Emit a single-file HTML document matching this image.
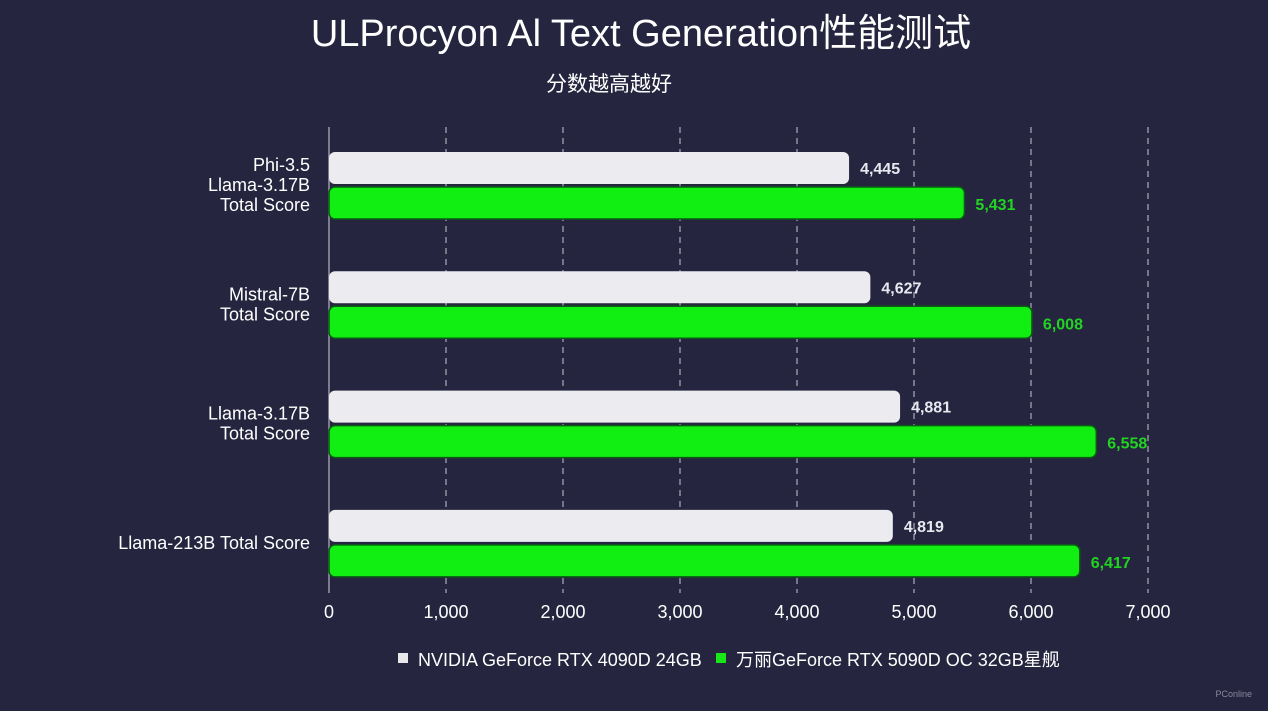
<!DOCTYPE html>
<html><head><meta charset="utf-8"><style>
html,body{margin:0;padding:0;background:#25253f;}
svg{display:block;font-family:"Liberation Sans","Noto Sans CJK SC",sans-serif;}
</style></head><body>
<svg id="c" width="1268" height="711" viewBox="0 0 1268 711">
<rect width="1268" height="711" fill="#25253f"/>
<text x="641" y="46" text-anchor="middle" font-size="38" fill="#ffffff">ULProcyon Al Text Generation性能测试</text>
<text x="609" y="91" text-anchor="middle" font-size="21" fill="#ffffff">分数越高越好</text>
<g id="grid"></g><g id="bars"></g><g id="labels"></g>
<g>
<rect x="398" y="653" width="10" height="10" fill="#e8e8ec"/>
<text x="418" y="666" font-size="18" fill="#ffffff">NVIDIA GeForce RTX 4090D 24GB</text>
<rect x="716" y="653" width="10" height="10" fill="#19e619"/>
<text x="736" y="666" font-size="18" fill="#ffffff">万丽GeForce RTX 5090D OC 32GB星舰</text>
</g>
<text x="1252" y="697" text-anchor="end" font-size="9" fill="#8888a0">PConline</text>
</svg>
<script>
const categories=[["Phi-3.5","Llama-3.17B","Total Score"],["Mistral-7B","Total Score"],["Llama-3.17B","Total Score"],["Llama-213B Total Score"]];
const series4090=[4445,4627,4881,4819];
const series5090=[5431,6008,6558,6417];
const ticks=[0,1000,2000,3000,4000,5000,6000,7000];
const tickLabels=["0","1,000","2,000","3,000","4,000","5,000","6,000","7,000"];
const NS="http://www.w3.org/2000/svg";
const x0=329,xMax=1148,vMax=7000,plotTop=127,plotBottom=593;
const xs=v=>x0+v/vMax*(xMax-x0);
const groupCenter=i=>185+i*119.3;
function mk(tag,attrs,parent){const e=document.createElementNS(NS,tag);for(const k in attrs)e.setAttribute(k,attrs[k]);document.getElementById(parent).appendChild(e);return e;}
const fmt=v=>v.toLocaleString('en-US');
ticks.forEach((t,i)=>{
  const l=mk('line',{x1:xs(t),x2:xs(t),y1:plotTop,y2:plotBottom,stroke:i===0?'#9a9aa8':'#c8c8d0','stroke-width':i===0?1.5:1,'stroke-dasharray':i===0?'none':'6,5'},'grid');
  
  
  const tx=mk('text',{x:xs(t),y:618,'text-anchor':'middle','font-size':18,fill:'#ffffff'},'grid');
  tx.textContent=tickLabels[i];
  
  
});
categories.forEach((lines,i)=>{
  const c=groupCenter(i);
  const r1=mk('rect',{x:x0,y:c-33,width:xs(series4090[i])-x0,height:32,rx:6,fill:'#ececf0'},'bars');
  
  
  const r2=mk('rect',{x:x0,y:c+2,width:xs(series5090[i])-x0,height:32,rx:6,fill:'#11ee11',stroke:'#0b5a16','stroke-width':1.5},'bars');
  
  
  const v1=mk('text',{x:xs(series4090[i])+11,y:c-11,'font-size':16,'font-weight':'bold',fill:'#e8e8f0'},'labels');
  v1.textContent=fmt(series4090[i]);
  
  
  const v2=mk('text',{x:xs(series5090[i])+11,y:c+25,'font-size':16,'font-weight':'bold',fill:'#22d422'},'labels');
  v2.textContent=fmt(series5090[i]);
  
  
  const n=lines.length,lh=20;
  lines.forEach((s,j)=>{
    const t=mk('text',{x:310,y:c+6+(j-(n-1)/2)*lh,'text-anchor':'end','font-size':18,fill:'#ffffff'},'labels');
    t.textContent=s;
    
    
  });
});
</script>
</body></html>
